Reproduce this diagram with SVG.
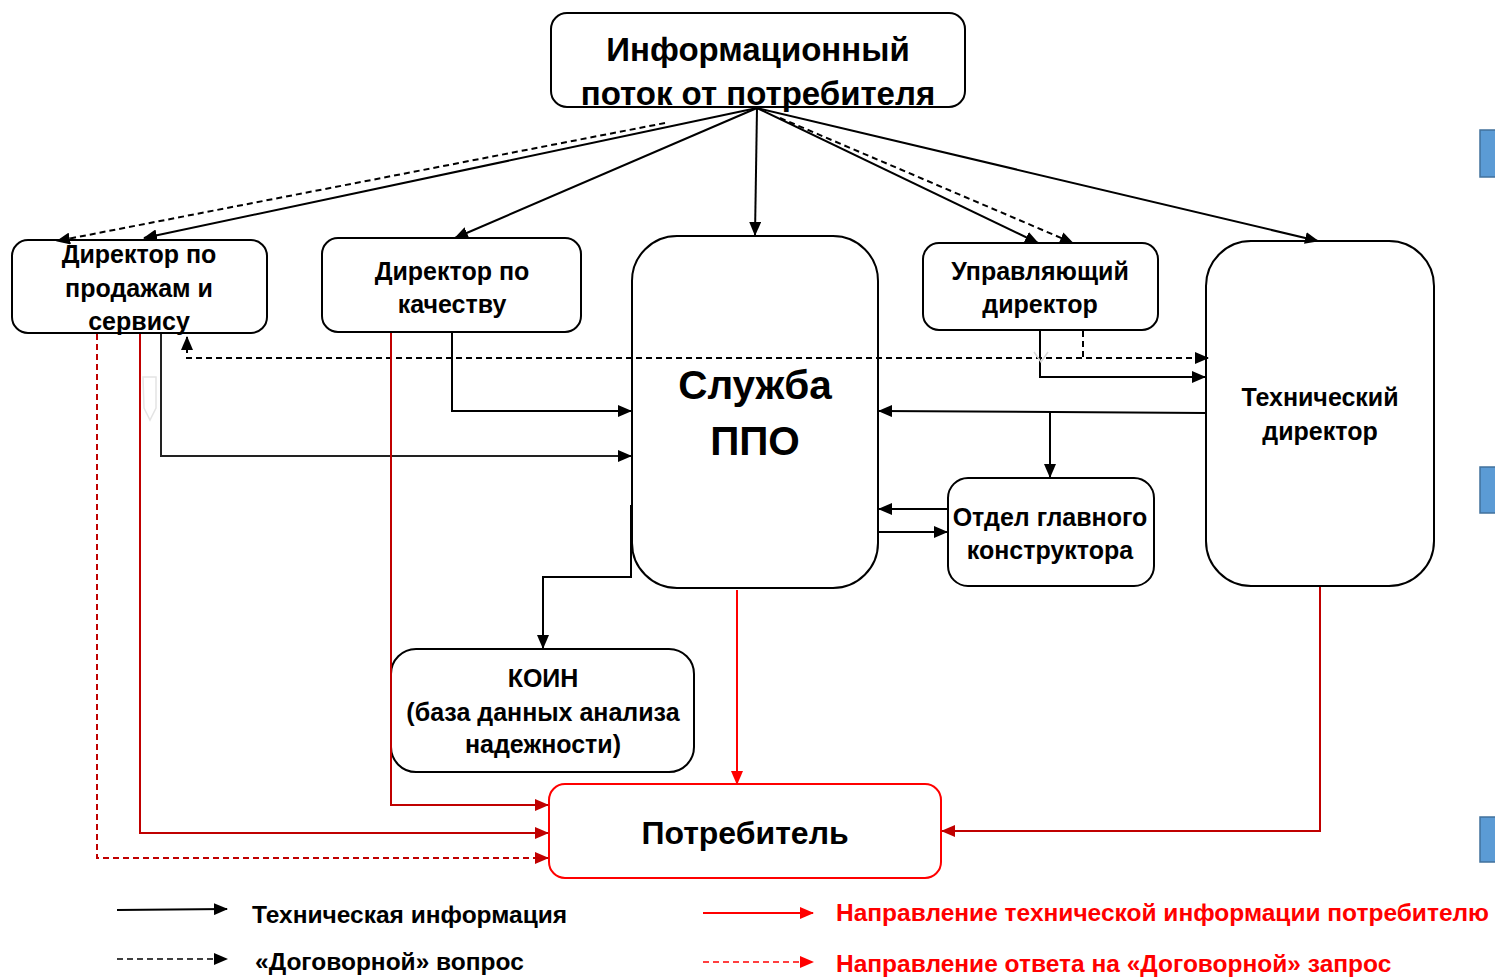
<svg xmlns="http://www.w3.org/2000/svg" width="1495" height="980" viewBox="0 0 1495 980">
<style>
.box{fill:#fff;stroke:#000;stroke-width:2}
.t{font-family:"Liberation Sans",Arial,sans-serif;font-weight:bold;font-size:25px;fill:#000;text-anchor:middle}
.lg{font-family:"Liberation Sans",Arial,sans-serif;font-weight:bold;font-size:24.5px;fill:#000}
.lr{fill:#ff0000}
.c{fill:none;stroke:#000;stroke-width:2}
.d{stroke-dasharray:6 4}
.r{fill:none;stroke:#c00000;stroke-width:2}
.rb{fill:none;stroke:#ff0000;stroke-width:2}
.blue{fill:#5b9bd5;stroke:#41719c;stroke-width:1.5}
</style>
<defs>
<marker id="ak" markerUnits="userSpaceOnUse" markerWidth="14" markerHeight="12" refX="13" refY="6" orient="auto-start-reverse"><path d="M0,0 L14,6 L0,12 z" fill="#000"/></marker>
<marker id="ar" markerUnits="userSpaceOnUse" markerWidth="14" markerHeight="12" refX="13" refY="6" orient="auto"><path d="M0,0 L14,6 L0,12 z" fill="#c00000"/></marker>
<marker id="arb" markerUnits="userSpaceOnUse" markerWidth="14" markerHeight="12" refX="13" refY="6" orient="auto"><path d="M0,0 L14,6 L0,12 z" fill="#ff0000"/></marker>
</defs>
<rect width="1495" height="980" fill="#fff"/>

<g id="info">
<rect class="box" x="551" y="13" width="414" height="94" rx="16"/>
<text class="t" x="758" y="61" style="font-size:33px">Информационный</text>
<text class="t" x="758" y="105" style="font-size:33px">поток от потребителя</text>
</g>

<g id="sales">
<rect class="box" x="12" y="240" width="255" height="93" rx="16"/>
<text class="t" x="139" y="263">Директор по</text>
<text class="t" x="139" y="297">продажам и</text>
<text class="t" x="139" y="330">сервису</text>
</g>

<g id="quality">
<rect class="box" x="322" y="238" width="259" height="94" rx="16"/>
<text class="t" x="452" y="280">Директор по</text>
<text class="t" x="452" y="313">качеству</text>
</g>

<g id="service">
<rect class="box" x="632" y="236" width="246" height="352" rx="45"/>
<text class="t" x="755" y="399" style="font-size:40.5px">Служба</text>
<text class="t" x="755" y="455" style="font-size:40.5px">ППО</text>
</g>

<g id="managing">
<rect class="box" x="923" y="243" width="235" height="87" rx="16"/>
<text class="t" x="1040" y="280">Управляющий</text>
<text class="t" x="1040" y="313">директор</text>
</g>

<g id="technical">
<rect class="box" x="1206" y="241" width="228" height="345" rx="45"/>
<text class="t" x="1320" y="406">Технический</text>
<text class="t" x="1320" y="440">директор</text>
</g>

<g id="design">
<rect class="box" x="948" y="478" width="206" height="108" rx="20"/>
<text class="t" x="1050" y="526">Отдел главного</text>
<text class="t" x="1050" y="559">конструктора</text>
</g>

<g id="koin">
<rect class="box" x="391" y="649" width="303" height="123" rx="25"/>
<text class="t" x="543" y="687">КОИН</text>
<text class="t" x="543" y="721">(база данных анализа</text>
<text class="t" x="543" y="753">надежности)</text>
</g>

<g id="consumer">
<rect x="549" y="784" width="392" height="94" rx="16" fill="#fff" stroke="#ff0000" stroke-width="2"/>
<text class="t" x="745" y="844" style="font-size:32px">Потребитель</text>
</g>

<g id="connectors">
<line class="c d" x1="665" y1="123" x2="57" y2="241" marker-end="url(#ak)"/>
<line class="c" x1="757" y1="108" x2="144" y2="238" marker-end="url(#ak)"/>
<line class="c" x1="757" y1="108" x2="455" y2="238" marker-end="url(#ak)"/>
<line class="c" x1="757" y1="108" x2="755" y2="235" marker-end="url(#ak)"/>
<line class="c" x1="757" y1="108" x2="1038" y2="243" marker-end="url(#ak)"/>
<line class="c d" x1="780" y1="118" x2="1073" y2="243" marker-end="url(#ak)"/>
<line class="c" x1="757" y1="108" x2="1318" y2="241" marker-end="url(#ak)"/>
<path class="c d" d="M187,337 V358 H1208" marker-start="url(#ak)" marker-end="url(#ak)"/>
<path class="c d" d="M1083,331 V358"/>
<path class="c" d="M1040,331 V377 H1205" marker-end="url(#ak)"/>
<path class="c" style="stroke:#222" d="M161,334 V456 H631" marker-end="url(#ak)"/>
<path class="c" d="M452,333 V411 H631" marker-end="url(#ak)"/>
<path class="c" d="M1206,413 L879,411" marker-end="url(#ak)"/>
<path class="c" d="M1050,412 V477" marker-end="url(#ak)"/>
<path class="c" d="M948,509 H879" marker-end="url(#ak)"/>
<path class="c" d="M878,532 H947" marker-end="url(#ak)"/>
<path class="c" d="M631,505 V577 H543 V648" marker-end="url(#ak)"/>
<path class="rb" d="M737,590 V784" marker-end="url(#arb)"/>
<path class="r" d="M391,333 V805 H548" marker-end="url(#ar)"/>
<path class="r" d="M140,334 V833 H548" marker-end="url(#ar)"/>
<path class="r d" d="M97,334 V858 H548" marker-end="url(#ar)"/>
<path class="r" d="M1320,587 V831 H942" marker-end="url(#ar)"/>
<path d="M143,377 H156 V408 L150,420 L144,408 Z" fill="none" stroke="#e4e4e4" stroke-width="1.5"/>
<path d="M1034,352 L1041,362 L1048,352" fill="none" stroke="#d8d8d8" stroke-width="1.5"/>
</g>

<g id="legend">
<line class="c" x1="117" y1="910" x2="227" y2="909" marker-end="url(#ak)"/>
<text class="lg" x="252" y="923">Техническая информация</text>
<line class="c d" x1="117" y1="959" x2="227" y2="959" marker-end="url(#ak)" style="stroke-width:1.5"/>
<text class="lg" x="255" y="970">«Договорной» вопрос</text>
<line class="rb" x1="703" y1="913" x2="813" y2="913" marker-end="url(#arb)"/>
<text class="lg lr" x="836" y="921">Направление технической информации потребителю</text>
<line class="rb d" x1="703" y1="962" x2="813" y2="962" marker-end="url(#arb)" style="stroke-width:1.5"/>
<text class="lg lr" x="836" y="972">Направление ответа на «Договорной» запрос</text>
</g>

<g id="side-tabs">
<rect class="blue" x="1480" y="130" width="20" height="47"/>
<rect class="blue" x="1480" y="467" width="20" height="46"/>
<rect class="blue" x="1480" y="817" width="20" height="45"/>
</g>
</svg>
